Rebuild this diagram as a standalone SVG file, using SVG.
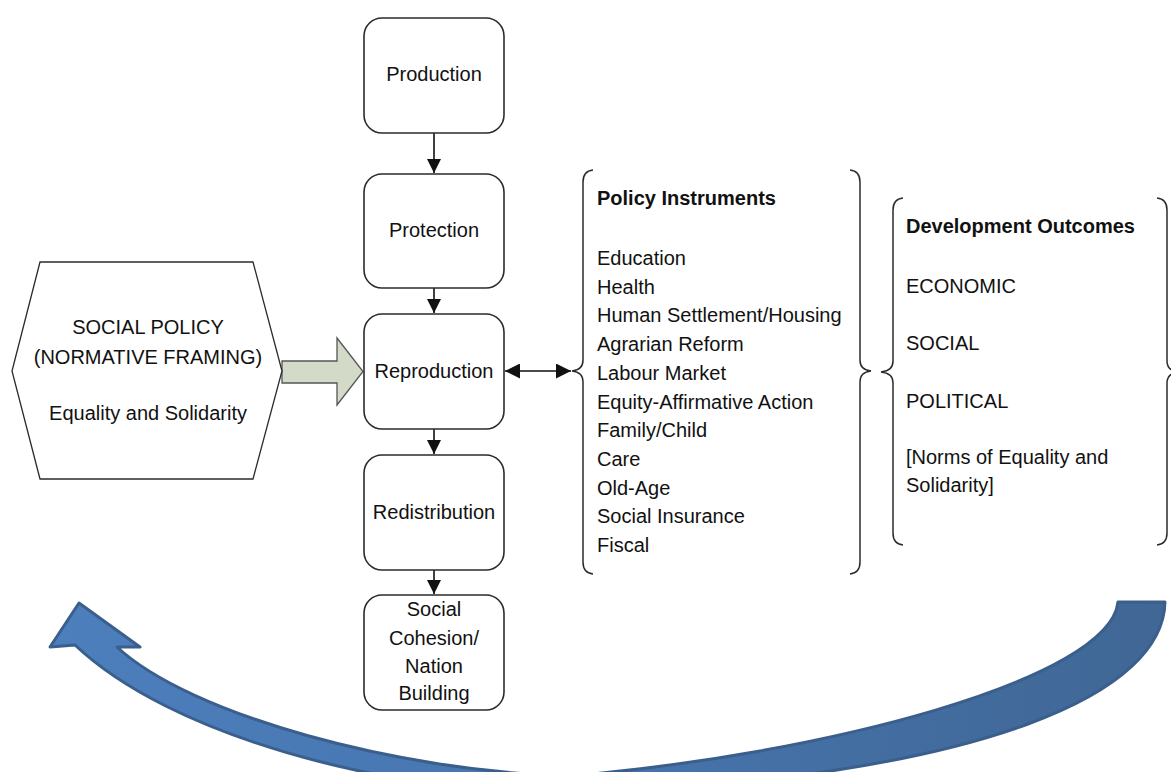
<svg xmlns="http://www.w3.org/2000/svg" width="1171" height="772" viewBox="0 0 1171 772">
  <defs>
    <style>
      .box { fill: #ffffff; stroke: #2b2b2b; stroke-width: 1.6; }
      .hex { fill: #ffffff; stroke: #2b2b2b; stroke-width: 1.3; }
      .lbl { font-family: "Liberation Sans", Arial, sans-serif; font-size: 20px; fill: #111111; }
      .mid { text-anchor: middle; }
      .bold { font-weight: bold; }
      .conn { stroke: #111111; stroke-width: 1.6; fill: none; }
      .brace { stroke: #2b2b2b; stroke-width: 1.5; fill: none; }
    </style>
    <marker id="head" viewBox="0 0 10 10" refX="10" refY="5" markerWidth="14" markerHeight="14" markerUnits="userSpaceOnUse" orient="auto-start-reverse">
      <path d="M0,0 L10,5 L0,10 Z" fill="#111111"/>
    </marker>
    <marker id="headWide" viewBox="0 0 10 10" refX="10" refY="5" markerWidth="18" markerHeight="15" markerUnits="userSpaceOnUse" orient="auto-start-reverse">
      <path d="M0,0 L10,5 L0,10 Z" fill="#111111"/>
    </marker>
    <linearGradient id="loopFill" x1="0" y1="0" x2="1" y2="0">
      <stop offset="0" stop-color="#4d7fbd"/>
      <stop offset="0.5" stop-color="#4674ad"/>
      <stop offset="1" stop-color="#406795"/>
    </linearGradient>
  </defs>

  <rect width="1171" height="772" fill="#ffffff"/>

  <!-- feedback loop: curved block arrow returning to the framing -->
  <g id="feedback-loop">
    <path d="M 1118 602 L 1165 602 C 1163 690, 1000 775, 570 795 C 380 792, 170 735, 75 645 L 50 647 L 79 603 L 140 647 L 117 647 C 190 715, 400 772, 570 776 C 820 755, 1110 680, 1118 602 Z" fill="url(#loopFill)" stroke="#3a5f8c" stroke-width="3" stroke-linejoin="round"/>
  </g>

  <!-- connectors -->
  <g id="connectors">
    <line class="conn" x1="434" y1="133" x2="434" y2="173" marker-end="url(#head)"/>
    <line class="conn" x1="434" y1="288" x2="434" y2="313" marker-end="url(#head)"/>
    <line class="conn" x1="434" y1="429" x2="434" y2="454" marker-end="url(#head)"/>
    <line class="conn" x1="434" y1="570" x2="434" y2="594" marker-end="url(#head)"/>
    <line class="conn" x1="505" y1="371" x2="571" y2="371" marker-start="url(#headWide)" marker-end="url(#headWide)"/>
    <!-- block arrow from framing into reproduction -->
    <path d="M 282 361 L 337 361 L 337 338 L 363 371.5 L 337 405 L 337 383 L 282 383 Z" fill="#d3dac8" stroke="#555555" stroke-width="1.3" stroke-linejoin="miter"/>
  </g>

  <!-- normative framing -->
  <g id="social-policy">
    <path class="hex" d="M 40 262 L 253 262 L 282 371 L 253 479 L 40 479 L 12 371 Z"/>
    <text class="lbl mid" x="148" y="334">SOCIAL POLICY</text>
    <text class="lbl mid" x="148" y="364">(NORMATIVE FRAMING)</text>
    <text class="lbl mid" x="148" y="420">Equality and Solidarity</text>
  </g>

  <g id="production">
    <rect class="box" x="364" y="18" width="140" height="115" rx="18"/>
    <text class="lbl mid" x="434" y="81">Production</text>
  </g>
  <g id="protection">
    <rect class="box" x="364" y="174" width="140" height="114" rx="18"/>
    <text class="lbl mid" x="434" y="237">Protection</text>
  </g>
  <g id="reproduction">
    <rect class="box" x="364" y="314" width="140" height="115" rx="18"/>
    <text class="lbl mid" x="434" y="378">Reproduction</text>
  </g>
  <g id="redistribution">
    <rect class="box" x="364" y="455" width="140" height="115" rx="18"/>
    <text class="lbl mid" x="434" y="519">Redistribution</text>
  </g>
  <g id="social-cohesion">
    <rect class="box" x="364" y="595" width="140" height="115" rx="18"/>
    <text class="lbl mid" x="434" y="616">Social</text>
    <text class="lbl mid" x="434" y="645">Cohesion/</text>
    <text class="lbl mid" x="434" y="673">Nation</text>
    <text class="lbl mid" x="434" y="700">Building</text>
  </g>

  <g id="policy-instruments">
    <path class="brace" d="M 593 170 Q 583 171 583 182 L 583 360 Q 583 370 572 371 Q 583 372 583 382 L 583 562 Q 583 573 593 574"/>
    <path class="brace" d="M 850 170 Q 860 171 860 182 L 860 360 Q 860 370 871 371 Q 860 372 860 382 L 860 562 Q 860 573 850 574"/>
    <text class="lbl bold" x="597" y="205">Policy Instruments</text>
    <text class="lbl" x="597" y="265">Education</text>
    <text class="lbl" x="597" y="293.7">Health</text>
    <text class="lbl" x="597" y="322.4">Human Settlement/Housing</text>
    <text class="lbl" x="597" y="351.1">Agrarian Reform</text>
    <text class="lbl" x="597" y="379.8">Labour Market</text>
    <text class="lbl" x="597" y="408.5">Equity-Affirmative Action</text>
    <text class="lbl" x="597" y="437.2">Family/Child</text>
    <text class="lbl" x="597" y="465.9">Care</text>
    <text class="lbl" x="597" y="494.6">Old-Age</text>
    <text class="lbl" x="597" y="523.3">Social Insurance</text>
    <text class="lbl" x="597" y="552">Fiscal</text>
  </g>

  <g id="development-outcomes">
    <path class="brace" d="M 903 198 Q 893 199 893 210 L 893 361 Q 893 371 881 372 Q 893 373 893 383 L 893 533 Q 893 544 903 545"/>
    <path class="brace" d="M 1157 198 Q 1167 199 1167 210 L 1167 361 Q 1167 371 1179 372 Q 1167 373 1167 383 L 1167 533 Q 1167 544 1157 545"/>
    <text class="lbl bold" x="906" y="233">Development Outcomes</text>
    <text class="lbl" x="906" y="293">ECONOMIC</text>
    <text class="lbl" x="906" y="350">SOCIAL</text>
    <text class="lbl" x="906" y="408">POLITICAL</text>
    <text class="lbl" x="906" y="464">[Norms of Equality and</text>
    <text class="lbl" x="906" y="492">Solidarity]</text>
  </g>
</svg>
